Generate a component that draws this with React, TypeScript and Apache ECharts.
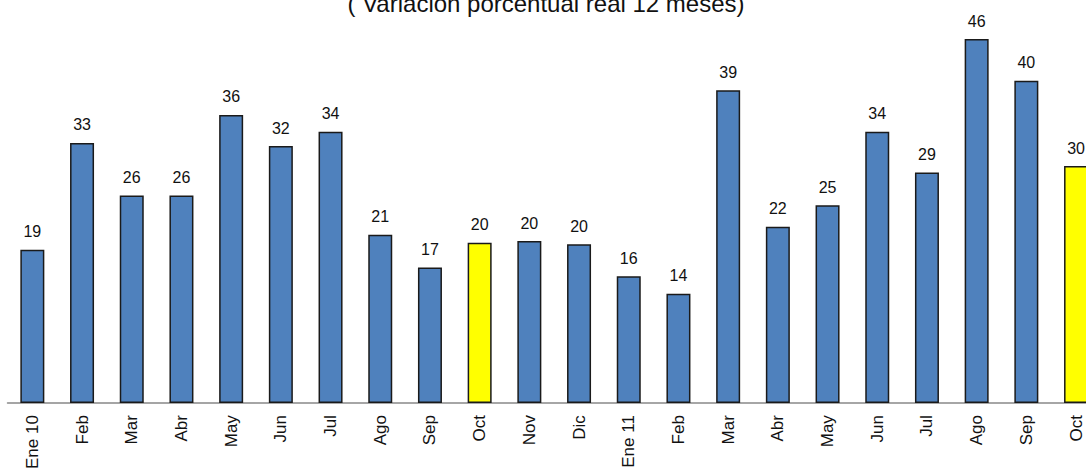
import React, { useEffect, useRef } from "react";
import * as echarts from "echarts";

const title = "( Variación porcentual real 12 meses)";
const categories = [
  "Ene 10", "Feb", "Mar", "Abr", "May", "Jun", "Jul", "Ago", "Sep", "Oct", "Nov", "Dic",
  "Ene 11", "Feb", "Mar", "Abr", "May", "Jun", "Jul", "Ago", "Sep", "Oct",
];
const values = [
  19.2, 32.6, 26.0, 26.0, 36.1, 32.2, 34.0, 21.1, 17.0, 20.1, 20.3, 19.9,
  15.9, 13.7, 39.2, 22.1, 24.8, 34.0, 28.9, 45.6, 40.4, 29.7,
];
const highlighted = [9, 21];

const FONT = "'Liberation Sans', Arial, sans-serif";

export default function App() {
  const ref = useRef<HTMLDivElement>(null);
  useEffect(() => {
    if (!ref.current) return;
    const chart = echarts.init(ref.current, null, { renderer: "svg" });
    chart.setOption({
      animation: false,
      backgroundColor: "#ffffff",
      graphic: [
        {
          type: "text",
          x: 546,
          y: 3.5,
          style: {
            text: title,
            font: `24px ${FONT}`,
            fill: "#111",
            align: "center",
            verticalAlign: "middle",
          },
        },
      ],
      grid: { left: 7.5, width: 1093.4, top: 4, bottom: 67, containLabel: false },
      xAxis: {
        type: "category",
        data: categories,
        axisLine: { show: true, lineStyle: { color: "#888888", width: 1.5 } },
        axisTick: { show: false },
        axisLabel: {
          rotate: 90,
          interval: 0,
          margin: 12,
          fontSize: 17,
          fontFamily: FONT,
          color: "#111",
        },
      },
      yAxis: {
        type: "value",
        min: 0,
        max: 50,
        show: false,
        splitLine: { show: false },
      },
      series: [
        {
          type: "bar",
          barWidth: 24,
          data: values.map((v, i) => ({
            value: v,
            itemStyle: { color: highlighted.includes(i) ? "#FFFF00" : "#4F81BD" },
          })),
          itemStyle: { borderColor: "#1a1a1a", borderWidth: 1.5 },
          label: {
            show: true,
            position: "top",
            distance: 10,
            fontSize: 16,
            fontFamily: FONT,
            color: "#111",
            formatter: (p: any) => String(Math.round(p.value)),
          },
        },
      ],
    });
    return () => chart.dispose();
  }, []);
  return (
    <div
      style={{
        position: "fixed",
        left: 0,
        top: 0,
        width: 1086,
        height: 472,
        overflow: "hidden",
        background: "#fff",
      }}
    >
      <div ref={ref} style={{ position: "absolute", left: 0, top: 0, width: 1110, height: 472 }} />
    </div>
  );
}
